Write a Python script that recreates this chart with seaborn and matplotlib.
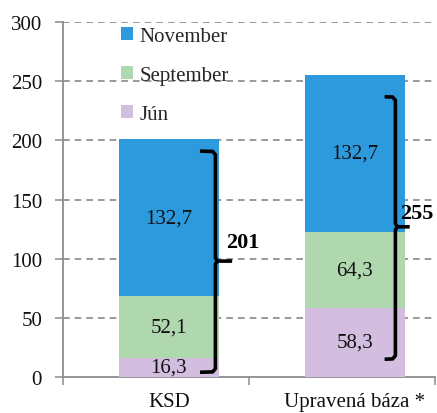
import matplotlib
matplotlib.use("Agg")
import matplotlib.pyplot as plt
import seaborn as sns
import numpy as np
import pandas as pd
from matplotlib.patches import Patch

categories = ["KSD", "Upravená báza *"]
jun = [16.3, 58.3]
september = [52.1, 64.3]
november = [132.7, 132.7]
totals_text = ["201", "255"]
series_names = ["Jún", "September", "November"]
colors = {"Jún": "#D4BEDF", "September": "#B0D8AF", "November": "#2E9ADE"}

sns.set_theme(style="white")
plt.rcParams["font.family"] = ["Liberation Serif", "DejaVu Serif"]

FS = 15

fig = plt.figure(figsize=(4.37, 4.14), dpi=100)
ax = fig.add_axes([0.144, 0.087, 0.851, 0.857])

cum1 = np.array(jun)
cum2 = cum1 + np.array(september)
cum3 = cum2 + np.array(november)

for vals, name in [(cum3, "November"), (cum2, "September"), (cum1, "Jún")]:
    df = pd.DataFrame({"cat": categories, "v": vals})
    sns.barplot(data=df, x="cat", y="v", color=colors[name], width=0.54,
                saturation=1, ax=ax, zorder=3, linewidth=0)

# segment labels
for i in range(len(categories)):
    bottoms = [0, cum1[i], cum2[i]]
    heights = [jun[i], september[i], november[i]]
    for b, h in zip(bottoms, heights):
        ax.text(i, b + h / 2, f"{h:.1f}".replace(".", ","), ha="center", va="center",
                fontsize=FS, color="#111111", zorder=5)

# braces
brace_x = [(0.167, 0.25, 0.34), (1.16, 1.218, 1.295)]
brace_y = [(4, 98, 191), (15, 127, 237)]
label_pos = [(0.306, 114), (1.242, 139)]
for (x0, x1, x2), (yb, ym, yt), (lx, ly), txt in zip(brace_x, brace_y, label_pos, totals_text):
    ax.plot([x0, x1 - 0.015, x1, x1, x1 + 0.012, x2], [yt, yt - 0.3, yt - 3, ym + 2.5, ym, ym],
            color="black", lw=2.6, solid_joinstyle="round", solid_capstyle="butt",
            zorder=6, clip_on=False)
    ax.plot([x0, x1 - 0.015, x1, x1, x1 + 0.012], [yb, yb + 0.3, yb + 3, ym - 2.5, ym],
            color="black", lw=2.6, solid_joinstyle="round", solid_capstyle="butt",
            zorder=6, clip_on=False)
    ax.text(lx, ly, txt, ha="left", va="center", fontsize=16, fontweight="bold",
            color="black", zorder=7, clip_on=False)

ax.set_xlim(-0.57, 1.43)
ax.set_ylim(0, 300)
ax.set_yticks(np.arange(0, 301, 50))
ax.set_xlabel("")
ax.set_ylabel("")
for y in np.arange(50, 301, 50):
    ax.axhline(y, color="#878787", lw=1.2, ls=(0, (4, 3)), zorder=1)

for s in ["top", "right"]:
    ax.spines[s].set_visible(False)
for s in ["left", "bottom"]:
    ax.spines[s].set_color("#8C8C8C")
    ax.spines[s].set_linewidth(1.3)

ax.tick_params(axis="y", which="major", direction="out", length=6, width=1.1,
               color="#8C8C8C", labelsize=FS, labelcolor="#111111", pad=9, left=True)
ax.set_xticks([-0.57, 0.43, 1.43], minor=True)
ax.tick_params(axis="x", which="minor", direction="out", length=6, width=1.1,
               color="#8C8C8C", bottom=True)
ax.tick_params(axis="x", which="major", length=0, labelsize=FS, labelcolor="#111111", pad=11)

handles = [Patch(facecolor=colors[n], edgecolor="none") for n in ["November", "September", "Jún"]]
ax.legend(handles, ["November", "September", "Jún"], loc="upper left",
          bbox_to_anchor=(0.133, 1.01), frameon=False, fontsize=FS,
          handlelength=0.6, handleheight=0.6, handletextpad=0.3, labelspacing=0.95,
          borderaxespad=0)

fig.savefig("out.png", dpi=100)
